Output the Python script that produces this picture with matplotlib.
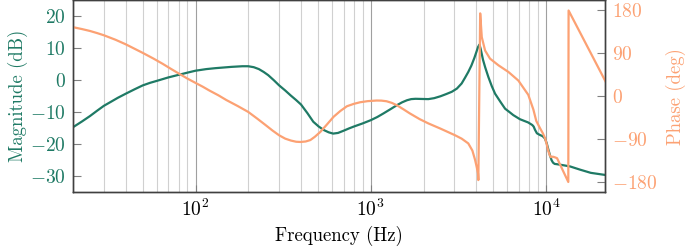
#- Module imports:

import numpy as np
import matplotlib.pyplot as plt


#- Fonts (LaTeX look):

plt.rcParams['font.family'] = 'serif'
plt.rcParams['font.serif'] = ['cmr10']
plt.rcParams['mathtext.fontset'] = 'cm'
plt.rcParams['axes.formatter.use_mathtext'] = True
plt.rcParams['font.size'] = 13.5


#- Data:

mag_freq = [20, 22.5, 25, 27.5, 30, 33, 36, 40, 45, 50, 55, 60, 70, 80, 90,
            100, 115, 130, 160, 185, 200, 215, 230, 245, 260, 280, 300, 325,
            350, 375, 400, 435, 470, 505, 540, 575, 610, 650, 700, 750, 800,
            900, 1000, 1090, 1180, 1300, 1410, 1510, 1610, 1700, 1800, 1950,
            2130, 2300, 2500, 2700, 2900, 3100, 3300, 3450, 3600, 3750, 3900,
            4030, 4100, 4170, 4230, 4300, 4370, 4500, 4690, 4900, 5120, 5500,
            5840, 6200, 6500, 7100, 7900, 8340, 8500, 8650, 8870, 9200, 9560,
            9850, 10090, 10300, 10520, 10750, 10960, 11200, 11560, 12500,
            13730, 15640, 18000, 22000]
mag_db = [-14.7, -12.9, -11.2, -9.5, -8.0, -6.7, -5.5, -4.2, -2.8, -1.6, -0.8,
          -0.2, 0.9, 1.7, 2.4, 3.0, 3.5, 3.8, 4.2, 4.4, 4.4, 4.1, 3.5, 2.6,
          1.6, 0.0, -1.6, -3.2, -4.8, -6.2, -7.6, -10.3, -13.0, -14.5, -15.6,
          -16.3, -16.7, -16.5, -15.8, -15.1, -14.5, -13.5, -12.5, -11.5,
          -10.4, -9.0, -7.8, -6.9, -6.25, -5.9, -5.8, -5.85, -5.9, -5.6, -5.0,
          -4.3, -3.6, -2.6, -1.0, 0.8, 2.6, 4.6, 7.0, 9.3, 10.5, 11.2, 10.0,
          8.2, 6.4, 4.0, 1.0, -1.8, -4.2, -6.8, -8.9, -10.0, -10.9, -12.2,
          -13.2, -14.0, -14.5, -15.5, -16.6, -17.1, -17.5, -18.2, -19.7,
          -21.6, -23.4, -25.0, -25.8, -26.2, -26.3, -26.6, -27.0, -28.0,
          -29.0, -29.7]

phase_freq = [20, 22.5, 25, 27.5, 30, 35, 40, 45, 50, 57.6, 65, 72, 80, 90,
              100, 110, 120, 135, 150, 175, 200, 225, 250, 275, 300, 325, 350,
              375, 397, 425, 452, 480, 515, 560, 614, 670, 731, 800, 870, 960,
              1080, 1150, 1230, 1320, 1410, 1530, 1670, 1900, 2130, 2500, 3030,
              3300, 3600, 3800, 3940, 4030, 4090, 4110, 4210, 4300, 4490, 4790,
              5350, 6100, 6950, 7920, 8470, 8800, 9240, 9600, 9870, 10080,
              10270, 10500, 10670, 10820, 10960, 11200, 11560, 13400, 13450,
              22000]
phase_deg = [145, 141, 137, 132.5, 128, 118.5, 109, 99.5, 91, 79, 68, 58, 48,
             37, 28, 20, 12, 2, -8, -21, -33, -47, -60, -72, -82, -89, -93,
             -95.5, -96, -95, -92, -85, -75, -60, -43, -31, -21, -16, -12.6,
             -10.3, -9, -9.2, -10.5, -14, -19, -27, -36, -48, -57, -68, -82,
             -89, -99, -114, -134, -150, -162, -176, 174, 124, 96, 79, 65, 51,
             33, 3, -28, -52, -67, -78, -88, -100, -113, -124, -128, -127,
             -127, -128, -130, -180, 180, 29]

grid_freq = [30, 40, 50, 60, 70, 80, 90,
             200, 300, 400, 500, 600, 700, 800, 900,
             2000, 3000, 4000, 5000, 6000, 7000, 8000, 9000]

green = '#1f7a65'
orange = '#fca173'


#- Plot:

fig = plt.figure(figsize=(6.85, 2.47), dpi=100)
ax = fig.add_axes([0.1066, 0.2227, 0.7766, 0.7753])
ax2 = ax.twinx()

ax.plot(mag_freq, mag_db, '-', color=green, lw=1.6)
ax2.plot(phase_freq, phase_deg, '-', color=orange, lw=1.6)

ax.set_xscale('log')
ax.set_xlim(20, 21700)
ax.set_ylim(-35, 25)
ax2.set_ylim(-201, 201)

ax.set_xticks([100, 1000, 10000])
ax.set_xticks(grid_freq, minor=True)
ax.xaxis.set_minor_formatter(plt.NullFormatter())
ax.grid(True, which='major', axis='x', color='#a0a0a0', lw=0.8)
ax.grid(True, which='minor', axis='x', color='#d0d0d0', lw=0.8)
ax.tick_params(axis='x', which='minor', length=0)
ax.tick_params(axis='x', which='major', direction='in', length=5,
               color='#808080', pad=5, labelsize=14)

ax.set_yticks([-30, -20, -10, 0, 10, 20])
ax2.set_yticks([-180, -90, 0, 90, 180])
ax.tick_params(axis='y', direction='in', length=6, color='#808080',
               labelcolor=green, pad=5, labelsize=14)
ax2.tick_params(axis='y', direction='in', length=6, color='#808080',
                labelcolor=orange, pad=5, labelsize=14)

ax.set_xlabel('Frequency (Hz)', labelpad=4)
ax.set_ylabel('Magnitude (dB)', color=green, labelpad=2)
ax2.set_ylabel('Phase (deg)', color=orange, labelpad=6)

for a in (ax, ax2):
    for s in a.spines.values():
        s.set_color('#404040')
        s.set_linewidth(1.0)

plt.savefig('out.png', dpi=100)
